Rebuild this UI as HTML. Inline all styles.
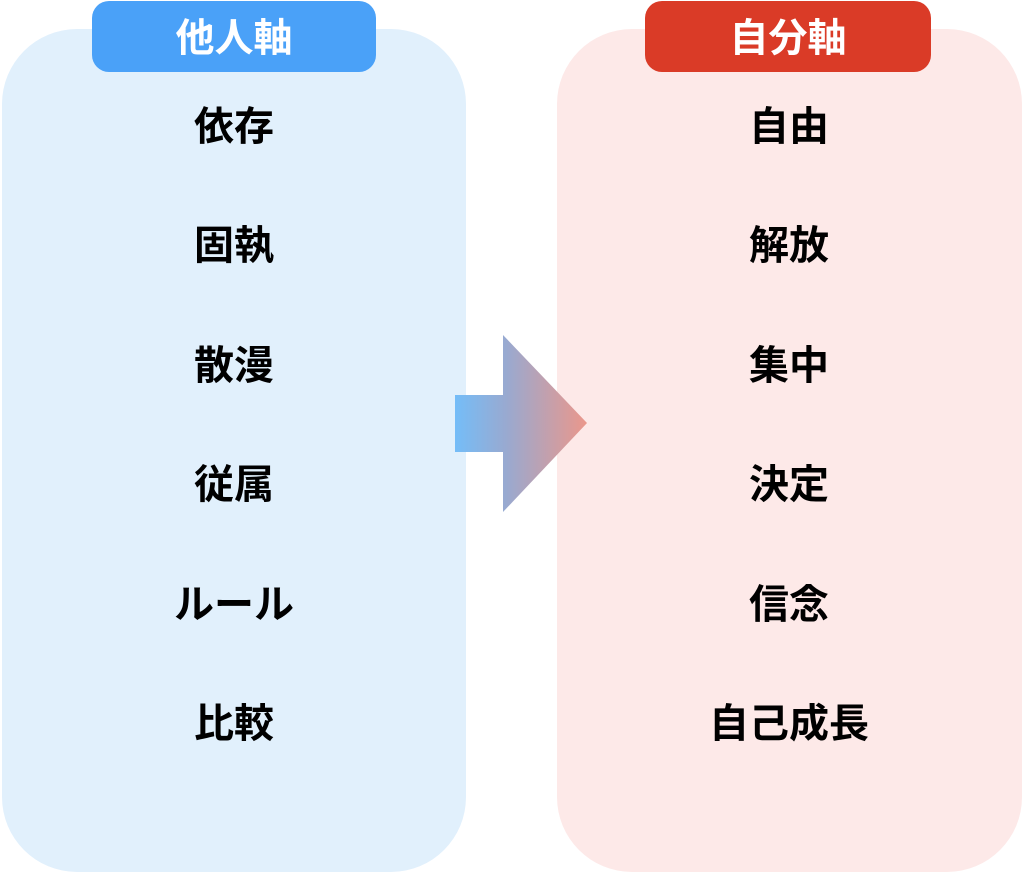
<!DOCTYPE html>
<html><head><meta charset="utf-8"><style>
html,body{margin:0;padding:0;background:#fff;}
svg{display:block;}
text{font-family:"Liberation Sans","Noto Sans CJK JP",sans-serif;font-weight:bold;text-anchor:middle;dominant-baseline:central;}
</style></head><body>
<svg width="1024" height="873" viewBox="0 0 1024 873" xmlns="http://www.w3.org/2000/svg">
<defs><linearGradient id="g" x1="455" y1="0" x2="587" y2="0" gradientUnits="userSpaceOnUse">
<stop offset="0" stop-color="#74bdf8"/><stop offset="0.4" stop-color="#9aa9cf"/><stop offset="1" stop-color="#eb978b"/></linearGradient></defs>
<rect x="2" y="29" width="464" height="843" rx="75" fill="#e1f0fc"/>
<rect x="557" y="29" width="465" height="843" rx="75" fill="#fde9e8"/>
<polygon points="455,395 503,395 503,335 587,423 503,512 503,452 455,452" fill="url(#g)"/>
<rect x="92" y="1" width="284" height="71" rx="17" fill="#4aa1f8"/>
<rect x="645" y="1" width="286" height="71" rx="17" fill="#da3b27"/>
<g font-size="39" fill="#fff"><text x="234" y="39">他人軸</text><text x="788" y="39">自分軸</text></g>
<g font-size="40" fill="#000">
<text x="234" y="127">依存</text><text x="234" y="246">固執</text><text x="234" y="366">散漫</text>
<text x="234" y="485">従属</text><text x="234" y="605">ルール</text><text x="234" y="724">比較</text>
<text x="789" y="127">自由</text><text x="789" y="246">解放</text><text x="789" y="366">集中</text>
<text x="789" y="485">決定</text><text x="789" y="605">信念</text><text x="789" y="724">自己成長</text>
</g>
</svg>
</body></html>
